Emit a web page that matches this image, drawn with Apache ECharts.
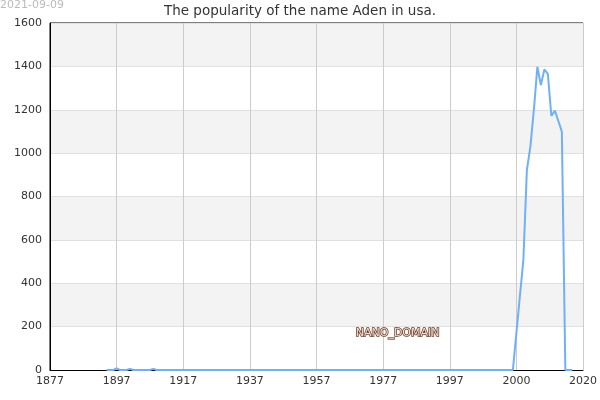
<!DOCTYPE html>
<html>
<head>
<meta charset="utf-8">
<script src="https://cdn.jsdelivr.net/npm/echarts@6/dist/echarts.min.js"></script>
<style>
  html, body { margin: 0; padding: 0; background: #fff; }
  #chart { width: 600px; height: 400px; }
</style>
</head>
<body>
<div id="chart"></div>
<script>
// yearly counts, name Aden (usa)
var years = [];
for (var y = 1894; y <= 2016; y++) years.push(y);
var earlyBumps = { 1897: 8, 1901: 5, 1908: 5 };
var recentYears = [2000, 2001, 2002, 2003, 2004, 2005, 2006, 2007, 2008, 2009, 2010, 2011, 2012, 2013, 2014, 2015, 2016];
var recentCounts = [170, 340, 507, 922, 1030, 1199, 1398, 1314, 1386, 1365, 1171, 1196, 1148, 1099, 0, 0, 0];
var tickLabels = { 1877: '1877', 1897: '1897', 1917: '1917', 1937: '1937', 1957: '1957', 1977: '1977', 1997: '1997', 2017: '2000', 2037: '2020' };

// the axis is stretched after 1997: 2000 sits on the 8th tick
function axisPos(year) {
    return year <= 1997 ? year : 2017 + (year - 2000) * 1.05;
}

var counts = years.map(function (yr) {
    var i = recentYears.indexOf(yr);
    if (i >= 0) return recentCounts[i];
    return earlyBumps[yr] || 0;
});
var seriesData = years.map(function (yr, i) { return [axisPos(yr), counts[i]]; });

var chart = echarts.init(document.getElementById('chart'));
var wm = { fill: '#e6e6f5', fontSize: 11, fontFamily: 'DejaVu Sans' };
chart.setOption({
    animation: false,
    title: {
        text: 'The popularity of the name Aden in usa.',
        left: 'center',
        top: -1,
        textStyle: { fontSize: 13.5, fontWeight: 'normal', color: '#333', fontFamily: 'DejaVu Sans' }
    },
    grid: { left: 50, right: 15, top: 23, bottom: 30, show: true, borderColor: '#000', borderWidth: 1, backgroundColor: 'transparent' },
    xAxis: {
        type: 'value', min: 1877, max: 2037, interval: 20,
        axisLine: { lineStyle: { color: '#000' } },
        axisTick: { show: false },
        axisLabel: {
            color: '#333', fontSize: 11, fontFamily: 'DejaVu Sans', margin: 6,
            formatter: function (v) { return tickLabels[v] || ''; }
        },
        splitLine: { show: true, lineStyle: { color: '#ccc' } }
    },
    yAxis: {
        type: 'value', min: 0, max: 1600, interval: 200,
        axisLine: { show: true, lineStyle: { color: '#000' } },
        axisTick: { show: false },
        axisLabel: { color: '#333', fontSize: 11, fontFamily: 'DejaVu Sans', margin: 8, formatter: function (v) { return String(v); } },
        splitLine: { show: true, lineStyle: { color: '#e0e0e0' } },
        splitArea: { show: true, areaStyle: { color: ['#ffffff', '#f3f3f3'] } }
    },
    series: [{
        type: 'line',
        data: seriesData,
        showSymbol: false,
        lineStyle: { color: '#70b0f5', width: 2 },
        z: 3
    }],
    graphic: [
        { type: 'text', left: 0, top: 0, style: { text: '2021-09-09', fill: '#bbb', fontSize: 11, fontFamily: 'DejaVu Sans' } },
        { type: 'text', left: 83, top: 53, style: Object.assign({ text: 'Names of the World © 2021' }, wm) },
        { type: 'text', left: 294, top: 139, style: Object.assign({ text: 'Names of the World © 2021' }, wm) },
        { type: 'text', left: 147, top: 210, style: Object.assign({ text: 'Names of the World © 2021' }, wm) },
        { type: 'text', left: 355, top: 327, z: 10, style: { text: 'NANO_DOMAIN', fill: '#f0e0d8', stroke: '#6a3a22', lineWidth: 1.5, fontSize: 11, fontFamily: 'DejaVu Sans' } }
    ]
});
</script>
</body>
</html>
